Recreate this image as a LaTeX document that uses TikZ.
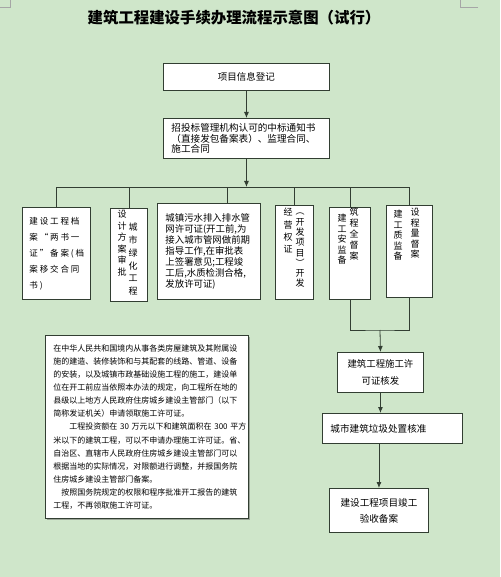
\documentclass[tikz,border=0pt]{standalone}
\usepackage{fontspec}
\setmainfont{Noto Sans CJK SC}
\newfontfamily\spacedcjk[LetterSpace=22]{Noto Sans CJK SC}
\usetikzlibrary{arrows.meta,shadows}
\definecolor{bgcol}{RGB}{207,230,202}
\definecolor{linecol}{RGB}{50,62,50}

\begin{document}
\begin{tikzpicture}[x=1pt,y=-1pt,
		box/.style={draw=linecol,fill=white,line width=0.9pt,anchor=north west,inner sep=0pt},
		arr/.style={draw=linecol,line width=0.8pt,-{Latex[length=6pt,width=5pt]}},
		wire/.style={draw=linecol,line width=0.8pt},
		vcol/.style={anchor=north,align=center,inner sep=0pt,font=\fontsize{9}{11.5}\selectfont}]
		\fill [bgcol] (0,0) rectangle (500,577);
		\useasboundingbox (0,0) rectangle (500,577);
		\draw [black!35] (0,7) -- (10,7) -- (10,0);
		\draw [black!35] (478,7) -- (460,7) -- (460,0);
		\node [font=\fontsize{15.4}{16}\selectfont\bfseries] (title) at (234,18) {建筑工程建设手续办理流程示意图（试行）};
		\node [box,minimum width=166pt,minimum height=27pt,font=\fontsize{9.5}{11}\selectfont] (info) at (163,63) {项目信息登记};
		\node [box,minimum height=40pt,text width=150pt,inner xsep=8pt,align=left,font=\fontsize{9.6}{10.5}\selectfont] (bid) at (163,118)
			{招投标管理机构认可的中标通知书\\（直接发包备案表）、监理合同、\\施工合同};
		\node [box,minimum height=92pt,text width=54pt,inner xsep=7pt,align=left,font=\spacedcjk\fontsize{8.5}{16}\selectfont] (archive) at (22,207)
			{建设工程档\\案“两书一\\证”备案(档\\案移交合同\\书)};
		\node [box,minimum width=37pt,minimum height=93pt] (green) at (110,208) {};
		\node [vcol] (greenL) at (122,210) {设\\计\\方\\案\\审\\批};
		\node [vcol,font=\fontsize{9}{12.8}\selectfont] (greenR) at (133,223) {城\\市\\绿\\化\\工\\程};
		\node [box,minimum height=96pt,text width=87pt,inner xsep=8pt,align=left,font=\fontsize{9.4}{11}\selectfont] (sewer) at (157,203)
			{城镇污水排入排水管\\网许可证(开工前,为\\接入城市管网做前期\\指导工作,在审批表\\上签署意见;工程竣\\工后,水质检测合格,\\发放许可证)};
		\node [box,minimum width=38pt,minimum height=94pt] (dev) at (275,205) {};
		\node [vcol,font=\fontsize{9}{12.3}\selectfont] (devL) at (288,208) {经\\营\\权\\证};
		\node [vcol,font=\fontsize{9}{10.3}\selectfont] (devR) at (300,213) {︵\\开\\发\\项\\目\\︶\\开\\发};
		\node [box,minimum width=41pt,minimum height=92pt] (safety) at (329,207) {};
		\node [vcol,font=\fontsize{9}{10.5}\selectfont] (safetyL) at (342,214) {建\\工\\安\\监\\备};
		\node [vcol,font=\fontsize{9}{11}\selectfont] (safetyR) at (354,208) {筑\\程\\全\\督\\案};
		\node [box,minimum width=46pt,minimum height=92pt] (quality) at (386,205) {};
		\node [vcol,font=\fontsize{9}{10.5}\selectfont] (qualityL) at (398,210) {建\\工\\质\\监\\备};
		\node [vcol,font=\fontsize{9}{10.5}\selectfont] (qualityR) at (415,208) {设\\程\\量\\督\\案};
		\node [box,minimum width=203pt,minimum height=183pt,text width=187pt,inner xsep=8pt,align=left,
			drop shadow={shadow xshift=1.5pt,shadow yshift=-1.5pt,fill=black!60},font=\fontsize{8}{13.1}\selectfont] (note) at (45,335)
			{在中华人民共和国境内从事各类房屋建筑及其附属设\\
			施的建造、装修装饰和与其配套的线路、管道、设备\\
			的安装，以及城镇市政基础设施工程的施工，建设单\\
			位在开工前应当依照本办法的规定，向工程所在地的\\
			县级以上地方人民政府住房城乡建设主管部门（以下\\
			简称发证机关）申请领取施工许可证。\\
			\hspace*{2em}工程投资额在~30~万元以下和建筑面积在~300~平方\\
			米以下的建筑工程，可以不申请办理施工许可证。省、\\
			自治区、直辖市人民政府住房城乡建设主管部门可以\\
			根据当地的实际情况，对限额进行调整，并报国务院\\
			住房城乡建设主管部门备案。\\
			\hspace*{1em}按照国务院规定的权限和程序批准开工报告的建筑\\
			工程，不再领取施工许可证。};
		\node [box,minimum width=86pt,minimum height=40pt,align=center,font=\fontsize{9.4}{17}\selectfont] (permit) at (337,352)
			{建筑工程施工许\\可证核发};
		\node [box,minimum height=30pt,text width=124pt,inner xsep=8pt,align=left,font=\fontsize{9.6}{11}\selectfont] (waste) at (322,413)
			{城市建筑垃圾处置核准};
		\node [box,minimum width=99pt,minimum height=44pt,align=center,font=\fontsize{9.6}{16}\selectfont] (accept) at (329,488)
			{建设工程项目竣工\\验收备案};
		\coordinate (bus) at (246,187);
		\coordinate (join) at (380,330);
		\draw [arr] (info.south) -- (bid.north);
		\draw [arr] (bid.south) -- (bid.south |- bus);
		\draw [wire] (archive.north |- bus) -- (quality.north |- bus);
		\foreach \b in {archive,green,dev,safety,quality}
			\draw [wire] (\b.north) -- (\b.north |- bus);
		\draw [wire] ([xshift=18pt]sewer.north) -- ([xshift=18pt]sewer.north |- bus);
		\draw [wire] (safety.south) |- (join) -| (quality.south);
		\draw [arr] (join) -- (permit.north);
		\draw [arr] (permit.south) -- (permit.south |- waste.north);
		\draw [arr] (accept.north |- waste.south) -- (accept.north);
\end{tikzpicture}
\end{document}
